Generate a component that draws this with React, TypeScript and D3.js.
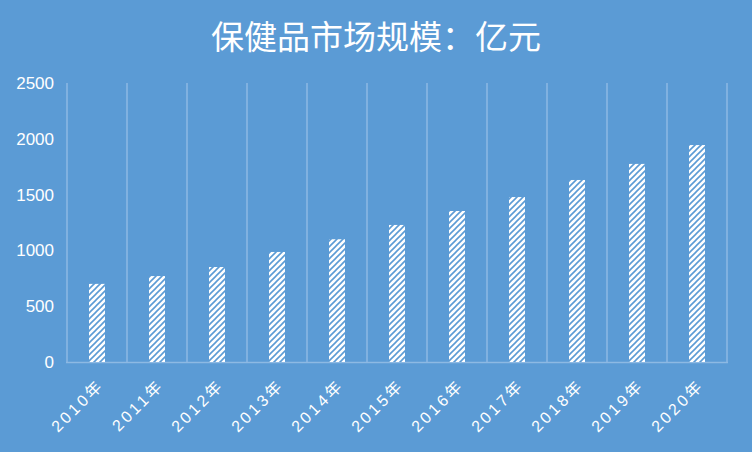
import React, { useEffect, useRef } from "react";
import * as d3 from "d3";

const categories = ["2010年", "2011年", "2012年", "2013年", "2014年", "2015年", "2016年", "2017年", "2018年", "2019年", "2020年"];
const values = [700, 770, 851, 986, 1100, 1228, 1353, 1478, 1631, 1775, 1944];
const yTicks = [0, 500, 1000, 1500, 2000, 2500];
const title = "保健品市场规模：亿元";

const W = 752;
const H = 452;
const BG = "#5B9BD5";
const GRID = "#8DB9E3";

export default function App() {
  const ref = useRef<SVGSVGElement>(null);
  useEffect(() => {
    const svg = d3.select(ref.current);
    svg.selectAll("*").remove();

    const x = d3.scaleBand<string>().domain(categories).range([67, 727]).paddingInner(0).paddingOuter(0);
    const y = d3.scaleLinear().domain([0, 2500]).range([362, 83]);

    const defs = svg.append("defs");
    const pat = defs
      .append("pattern")
      .attr("id", "diag")
      .attr("patternUnits", "userSpaceOnUse")
      .attr("width", 6)
      .attr("height", 6);
    pat.append("rect").attr("width", 6).attr("height", 6).attr("fill", "#ffffff");
    pat
      .append("path")
      .attr("d", "M-1,1 L1,-1 M0,6 L6,0 M5,7 L7,5")
      .attr("stroke", BG)
      .attr("stroke-width", 1.6);

    svg.append("rect").attr("width", W).attr("height", H).attr("fill", BG);

    svg
      .append("text")
      .attr("x", 376)
      .attr("y", 49)
      .attr("text-anchor", "middle")
      .attr("fill", "#ffffff")
      .attr("font-family", "'Noto Sans CJK SC', sans-serif")
      .attr("font-size", 33)
      .text(title);

    // vertical gridlines at category boundaries
    const bounds = categories.map((c) => x(c) as number).concat([727]);
    svg
      .append("g")
      .selectAll("line")
      .data(bounds)
      .join("line")
      .attr("x1", (d) => d)
      .attr("x2", (d) => d)
      .attr("y1", y(2500))
      .attr("y2", y(0))
      .attr("stroke", GRID)
      .attr("stroke-width", 1.5);

    // axis line
    svg
      .append("line")
      .attr("x1", 66)
      .attr("x2", 728)
      .attr("y1", y(0) + 0.5)
      .attr("y2", y(0) + 0.5)
      .attr("stroke", GRID)
      .attr("stroke-width", 1.5);

    // y tick labels
    svg
      .append("g")
      .selectAll("text")
      .data(yTicks)
      .join("text")
      .attr("x", 54)
      .attr("y", (d) => y(d))
      .attr("dy", "0.35em")
      .attr("text-anchor", "end")
      .attr("fill", "#ffffff")
      .attr("font-family", "'Liberation Sans', Arial, sans-serif")
      .attr("font-size", 17)
      .text((d) => String(d));

    // bars
    const bw = 16;
    svg
      .append("g")
      .selectAll("rect")
      .data(values)
      .join("rect")
      .attr("x", (d, i) => (x(categories[i]) as number) + x.bandwidth() / 2 - bw / 2)
      .attr("y", (d) => y(d))
      .attr("width", bw)
      .attr("height", (d) => y(0) - y(d))
      .attr("fill", "url(#diag)");

    // x labels rotated
    svg
      .append("g")
      .selectAll("text")
      .data(categories)
      .join("text")
      .attr("transform", (d) => `translate(${(x(d) as number) + x.bandwidth() / 2 + 8},${386}) rotate(-45)`)
      .attr("text-anchor", "end")
      .attr("fill", "#ffffff")
      .attr("font-family", "'Liberation Sans', 'Noto Sans CJK SC', sans-serif")
      .attr("font-size", 16)
      .attr("letter-spacing", 3)
      .text((d) => d);
  }, []);

  return (
    <svg
      ref={ref}
      width={W}
      height={H}
      style={{ position: "fixed", left: 0, top: 0, display: "block" }}
    />
  );
}
